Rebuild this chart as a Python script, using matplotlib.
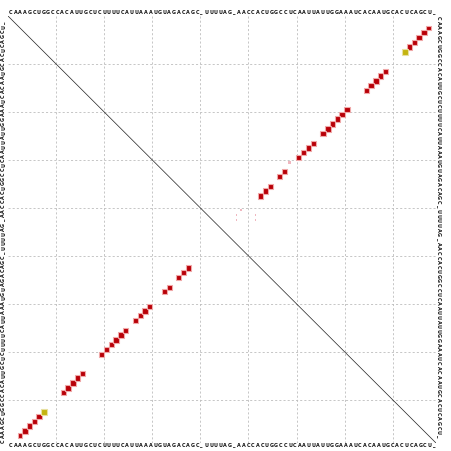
"""Dot plot de pares de bases (estilo RNAfold) recreado con matplotlib."""

import matplotlib
matplotlib.use("Agg")
import matplotlib.pyplot as plt
from matplotlib.patches import Rectangle
import numpy as np

# Secuencia de las etiquetas y longitud de la matriz (sin los "_")
secuencia = "CAAAGCUGGCCACAUUGCUCUUUUCAUUAAAUGUAGACAGC_UUUUAG_AACCACUGGCCUCAAUUAUUGGAAAUCACAAUGCACUCAGCU_"
n_bases = 89

# Pares (i, j) del triangulo superior y tamano relativo (~probabilidad)
par_i = [88, 87, 86, 85, 84, 83,
         79, 78, 77, 76, 75,
         71, 70, 69, 68, 67, 66,
         64, 63, 62, 61,
         58, 57,
         55, 54, 53]
par_j = [3, 4, 5, 6, 7, 8,
         12, 13, 14, 15, 16,
         20, 21, 22, 23, 24, 25,
         27, 28, 29, 30,
         33, 34,
         36, 37, 38]
par_p = [0.75, 0.95, 1.0, 1.0, 1.0, 1.0,
         0.9, 1.0, 1.0, 1.0, 0.95,
         0.85, 1.0, 1.0, 1.0, 1.0, 0.9,
         0.8, 0.9, 0.9, 0.8,
         0.85, 0.85,
         0.85, 1.0, 1.0]
par_gu = [False, False, False, False, False, True,
          False, False, False, False, False,
          False, False, False, False, False, False,
          False, False, False, False,
          False, False,
          False, False, False]

# Pares de baja probabilidad (solo arriba)
debil_i = [59, 48, 48, 49, 52, 52]
debil_j = [31, 42, 43, 41, 42, 43]
debil_p = [0.3, 0.1, 0.1, 0.1, 0.08, 0.08]

ROJO = "#b80008"
AMARILLO = "#c4b410"

W, H = 452, 451
fig = plt.figure(figsize=(W / 100, H / 100), dpi=100)
ax = fig.add_axes([8 / W, (H - 443) / H, 428 / W, 427 / H])
ax.set_xlim(0, n_bases)
ax.set_ylim(n_bases, 0)
ax.axis("off")

# Rejilla discontinua cada 10 bases
for k in range(10, n_bases, 10):
    ax.plot([k, k], [0, n_bases], color="#bdbdbd", lw=0.6, ls=(0, (2.5, 2.5)), zorder=1)
    ax.plot([0, n_bases], [k, k], color="#bdbdbd", lw=0.6, ls=(0, (2.5, 2.5)), zorder=1)

# Diagonal
ax.plot([0, n_bases], [0, n_bases], color="#202020", lw=0.5, zorder=2)


def cuadrado(x, y, p, color):
    lado = np.sqrt(p) * 1.15
    borde = "#f0a8a8" if color == ROJO else "#e8e0a0"
    ax.add_patch(Rectangle((x - 0.5 - lado / 2, y - 0.5 - lado / 2), lado, lado,
                           facecolor=color, edgecolor=borde, linewidth=0.8, zorder=3))


for i, j, p, gu in zip(par_i, par_j, par_p, par_gu):
    color = AMARILLO if gu else ROJO
    cuadrado(i, j, p, color)   # triangulo superior
    cuadrado(j, i, p, color)   # espejo inferior

for i, j, p in zip(debil_i, debil_j, debil_p):
    lado = np.sqrt(p) * 1.15
    ax.add_patch(Rectangle((i - 0.5 - lado / 2, j - 0.5 - lado / 2), lado, lado,
                           facecolor="#e07080", edgecolor="none", alpha=0.5, zorder=3))

# Etiquetas de secuencia en los cuatro lados
n = len(secuencia)
pos = np.linspace(0.007, 0.996, n)
kw = dict(transform=ax.transAxes, fontsize=3.5, fontweight="bold",
          ha="center", va="center", clip_on=False, color="#111111")
for k, c in enumerate(secuencia):
    ax.text(pos[k], 1.008, c, **kw)
    ax.text(pos[k], -0.005, c, **kw)
    ax.text(-0.01, 0.005 + (0.985 - 0.005) * k / (n - 1), c, rotation=90, **kw)
    ax.text(1.005, 0.995 - (0.985 - 0.005) * k / (n - 1), c, rotation=270, **kw)

fig.savefig("out.png", dpi=100)
plt.close(fig)
